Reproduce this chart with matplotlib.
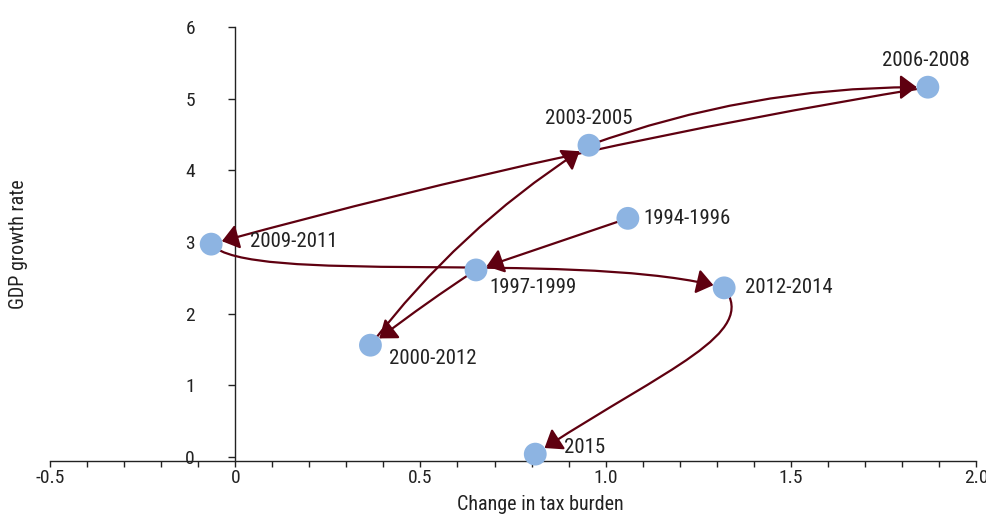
import numpy as np
import matplotlib
matplotlib.use("Agg")
import matplotlib.pyplot as plt
from matplotlib import font_manager as fm
from matplotlib.patches import FancyArrowPatch, ConnectionStyle
from matplotlib.path import Path
from matplotlib.ticker import MultipleLocator, FixedLocator, FixedFormatter

# data, in time order (each arrow goes to the next period)
periods = ['1994-1996', '1997-1999', '2000-2012', '2003-2005',
           '2006-2008', '2009-2011', '2012-2014', '2015']
tax_change = [1.06, 0.65, 0.365, 0.955, 1.87, -0.065, 1.32, 0.81]
gdp_growth = [3.33, 2.61, 1.56, 4.35, 5.16, 2.97, 2.36, 0.04]

xticks = [-0.5, 0, 0.5, 1.0, 1.5, 2.0]
xtick_labels = ['-0.5', '0', '0.5', '1.0', '1.5', '2.0']
yticks = [0, 1, 2, 3, 4, 5, 6]
ytick_labels = ['0', '1', '2', '3', '4', '5', '6']

# label placement (offset in points from the marker) and alignment
label_offsets = [(11.5, 0), (9.5, -13), (13.5, -9.5), (0, 19), (-1.5, 19.5),
                 (28, 2), (15, 0), (21, 4.5)]
label_ha = ['left', 'left', 'left', 'center', 'center', 'left', 'left', 'left']


class Curve(ConnectionStyle._Base):
    """Cubic bezier leaving A at angleA and arriving at B from angleB (pixels)."""

    def __init__(self, angleA, lenA, angleB, lenB):
        self.angleA, self.lenA = angleA, lenA
        self.angleB, self.lenB = angleB, lenB

    def connect(self, posA, posB):
        x1, y1 = posA
        x2, y2 = posB
        a, b = np.radians(self.angleA), np.radians(self.angleB)
        c1 = (x1 + self.lenA * np.cos(a), y1 + self.lenA * np.sin(a))
        c2 = (x2 + self.lenB * np.cos(b), y2 + self.lenB * np.sin(b))
        return Path([posA, c1, c2, posB],
                    [Path.MOVETO, Path.CURVE4, Path.CURVE4, Path.CURVE4])


# shape of each arrow between consecutive periods
arrow_shapes = [
    'arc3,rad=0',
    'arc3,rad=0.02',
    'arc3,rad=-0.09',
    'arc3,rad=-0.09',
    'arc3,rad=0.027',
    Curve(-50, 55, 165, 150),
    Curve(-52.5, 59, 33.5, 150),
]

# pick a narrow sans face if one is installed
narrow = [f for f in fm.fontManager.ttflist
          if 'condensed' in str(f.stretch) and f.style == 'normal'
          and f.weight in (400, 'normal', 'regular')]
if narrow:
    pref = ['Liberation Sans Narrow', 'Roboto Condensed', 'Noto Sans',
            'DejaVu Sans', 'Open Sans']
    narrow.sort(key=lambda f: pref.index(f.name) if f.name in pref else 99)
    plt.rcParams['font.family'] = [narrow[0].name, 'DejaVu Sans']
    plt.rcParams['font.stretch'] = narrow[0].stretch
    fs_lab, fs_tick = 15, 14
else:
    plt.rcParams['font.family'] = ['Roboto', 'DejaVu Sans']
    fs_lab, fs_tick = 13.5, 13

dot_color = '#8db4e2'
arrow_color = '#5f0010'
text_color = '#222222'

fig = plt.figure(figsize=(9.87, 5.17), dpi=100)
ax = fig.add_axes([0.0507, 0.1083, 0.9382, 0.8395])
ax.set_xlim(-0.5, 2.0)
ax.set_ylim(-0.056, 6)

for i in range(len(periods) - 1):
    arr = FancyArrowPatch((tax_change[i], gdp_growth[i]),
                          (tax_change[i + 1], gdp_growth[i + 1]),
                          arrowstyle='-|>,head_length=1.0,head_width=0.75',
                          mutation_scale=10, connectionstyle=arrow_shapes[i],
                          shrinkA=0, shrinkB=8, color=arrow_color, lw=1.6,
                          zorder=3)
    ax.add_patch(arr)

ax.scatter(tax_change, gdp_growth, s=270, color=dot_color, edgecolors='none',
           zorder=4, clip_on=False)

for i, name in enumerate(periods):
    ax.annotate(name, (tax_change[i], gdp_growth[i]), xytext=label_offsets[i],
                textcoords='offset points', ha=label_ha[i], va='center',
                fontsize=fs_lab, color=text_color, zorder=5)

# axes styling
ax.spines['top'].set_visible(False)
ax.spines['right'].set_visible(False)
ax.spines['left'].set_position(('data', 0))
for s in ['left', 'bottom']:
    ax.spines[s].set_color(text_color)
    ax.spines[s].set_linewidth(1)

ax.xaxis.set_major_locator(FixedLocator(xticks))
ax.xaxis.set_major_formatter(FixedFormatter(xtick_labels))
ax.xaxis.set_minor_locator(MultipleLocator(0.1))
ax.yaxis.set_major_locator(FixedLocator(yticks))
ax.yaxis.set_major_formatter(FixedFormatter(ytick_labels))

ax.tick_params(axis='x', which='both', direction='out', length=4.5, width=1,
               color=text_color, labelsize=fs_tick, labelcolor=text_color, pad=1.5)
ax.tick_params(axis='y', which='major', direction='out', length=5, width=1,
               color=text_color, labelsize=fs_tick, labelcolor=text_color, pad=24)

ax.set_xlabel('Change in tax burden', fontsize=fs_tick + 0.5, color=text_color)
ax.xaxis.set_label_coords(0.529, -0.078)
ax.set_ylabel('GDP growth rate', fontsize=fs_tick + 0.5, color=text_color)
ax.yaxis.set_label_coords(-0.024, 0.5)

fig.savefig('out.png', dpi=100)
